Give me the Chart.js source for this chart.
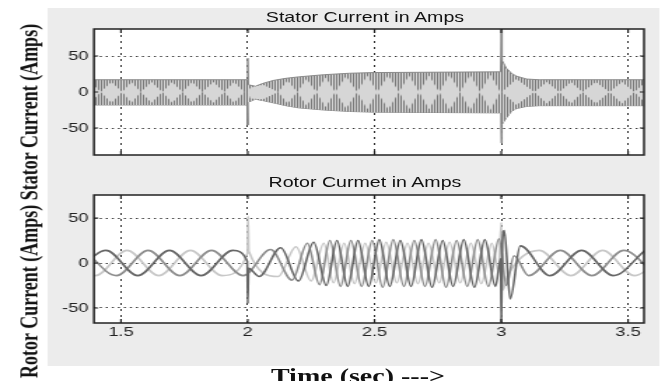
<!DOCTYPE html>
<html>
<head>
<meta charset="utf-8">
<script src="https://cdn.jsdelivr.net/npm/chart.js@4.4.0/dist/chart.umd.min.js"></script>
<style>
body{margin:0;background:#fff;overflow:hidden}
#fig{position:absolute;left:0;top:0;width:474px;height:381px;transform:scaleX(1.4);transform-origin:0 0}
#bg{position:absolute;left:34.3px;top:8px;width:436.7px;height:358px;background:#ececec}
canvas{position:absolute;left:0}
#c1{top:0}
#c2{top:170px}
.ttl{position:absolute;left:260.7px;transform:translateX(-50%);font:14px 'Liberation Sans';line-height:14px;white-space:nowrap;color:#111}
#ylab{position:absolute;left:20.7px;top:201px;transform:translate(-50%,-50%) rotate(-90deg);font:bold 18px 'Liberation Serif';line-height:18px;white-space:nowrap;color:#111}
#xlab{position:absolute;left:255.7px;top:366px;transform:translateX(-50%);font:bold 20px 'Liberation Serif';line-height:20px;white-space:nowrap;color:#111}
</style>
</head>
<body>
<div id="fig">
  <div id="bg"></div>
  <canvas id="c1" width="474" height="170"></canvas>
  <canvas id="c2" width="474" height="211"></canvas>
  <div class="ttl" style="top:10px">Stator Current in Amps</div>
  <div class="ttl" style="top:175px">Rotor Curmet in Amps</div>
  <div id="ylab">Rotor Current (Amps) Stator Current (Amps)</div>
  <div id="xlab">Time (sec) ---&gt;</div>
</div>
<script>
// axis ticks
const xTicks = [1.5, 2, 2.5, 3, 3.5]
const yTicks = [-50, 0, 50]

// stator current: envelope of the 50 Hz band
const statT  = [1.39, 1.997, 2.0, 2.003, 2.03, 2.06, 2.1, 2.15, 2.2, 2.3, 2.4, 2.5, 2.997, 3.0, 3.003, 3.02, 3.04, 3.06, 3.1, 3.15, 3.57]
const statUp = [17, 17, 47, 10, 8, 12, 16, 19, 21, 24, 26, 27, 28, 86, 44, 33, 26, 22, 18, 17, 17]
const statLo = [-18, -18, -46, -14, -10, -12, -15, -19, -22, -25, -27, -28, -29, -71, -45, -36, -27, -23, -20, -19, -19]

// stator current: light "diamonds" between the beat nodes
const diaT  = [1.38, 1.420, 1.462, 1.505, 1.541, 1.578, 1.620, 1.663, 1.702, 1.742, 1.781, 1.821, 1.864, 1.907, 1.946, 1.986, 2.0, 2.01, 2.06, 2.12,
  2.157, 2.195, 2.232, 2.27, 2.307, 2.345, 2.388, 2.432, 2.471, 2.511, 2.554, 2.597, 2.636, 2.676, 2.715, 2.755, 2.796, 2.838, 2.877, 2.917, 2.957, 2.996,
  3.003, 3.06, 3.130, 3.18, 3.229, 3.275, 3.320, 3.373, 3.427, 3.476, 3.525, 3.57]
const diaUp = [14, 0, 14, 0, 14, 0, 14, 0, 14, 0, 14, 0, 14, 0, 14, 0, 0, 6, 10, 0,
  16, 0, 18, 0, 20, 0, 22, 0, 23, 0, 23, 0, 23, 0, 23, 0, 24, 0, 24, 0, 24, 0,
  0, 18, 0, 14, 0, 14, 0, 14, 0, 14, 0, 14]
const diaLo = [-15, 0, -15, 0, -15, 0, -15, 0, -15, 0, -15, 0, -15, 0, -15, 0, 0, -9, -10, 0,
  -16, 0, -19, 0, -21, 0, -23, 0, -24, 0, -24, 0, -24, 0, -24, 0, -25, 0, -25, 0, -25, 0,
  0, -18, 0, -16, 0, -16, 0, -16, 0, -16, 0, -16]

// rotor currents, three phases (peaks, troughs and spikes)
const rotAT = [1.316, 1.441, 1.566, 1.691, 1.816, 1.941, 1.998, 2.0, 2.003, 2.045, 2.13, 2.2, 2.26, 2.31,
  2.352, 2.394, 2.435, 2.477, 2.519, 2.560, 2.602, 2.644, 2.685, 2.727, 2.769, 2.810, 2.852, 2.894, 2.935, 2.977,
  2.998, 3.0, 3.004, 3.012, 3.035, 3.075, 3.192, 3.317, 3.442, 3.567]
const rotA = [-14, 14, -14, 14, -14, 14, 2, -45, -6, -15, 17, -20, 23, -25,
  25, -26, 25, -26, 26, -26, 25, -26, 26, -27, 25, -26, 26, -27, 26, -26,
  5, -66, 20, 36, -40, 19, -14, 14, -14, 14]

const rotBT = [1.357, 1.482, 1.607, 1.732, 1.857, 1.982, 2.09, 2.175, 2.235, 2.283,
  2.324, 2.366, 2.407, 2.449, 2.491, 2.532, 2.574, 2.616, 2.657, 2.699, 2.741, 2.782, 2.824, 2.866, 2.907, 2.949, 2.991,
  3.02, 3.05, 3.108, 3.233, 3.358, 3.483, 3.608]
const rotB = [14, -14, 14, -14, 14, -14, 15, -19, 22, -24,
  25, -26, 25, -26, 25, -27, 26, -26, 25, -26, 26, -27, 25, -26, 26, -26, 27,
  -25, 8, -14, 14, -14, 14, -14]

const rotCT = [1.274, 1.399, 1.524, 1.649, 1.774, 1.899, 1.999, 2.001, 2.004, 2.12, 2.19, 2.25, 2.30,
  2.338, 2.380, 2.421, 2.463, 2.505, 2.546, 2.588, 2.630, 2.671, 2.713, 2.755, 2.796, 2.838, 2.880, 2.921, 2.963,
  2.99, 3.0, 3.006, 3.025, 3.15, 3.275, 3.40, 3.525, 3.65]
const rotC = [14, -14, 14, -14, 14, -14, 11, 52, 13, -15, 18, -20, 22,
  -22, 22, -23, 22, -22, 23, -22, 22, -23, 22, -22, 23, -22, 22, -23, 22,
  -10, 45, -30, -14, 14, -14, 14, -14, 14]

Chart.defaults.font.family = "'Liberation Sans', Arial, sans-serif"

function pts(t, v){ return t.map((x, i) => ({x: x, y: v[i]})) }

// white axes, box and inward ticks like matlab
const axesBox = {
  id: 'axesBox',
  beforeDraw(chart){
    const a = chart.chartArea, ctx = chart.ctx
    ctx.save(); ctx.fillStyle = '#fff'
    ctx.fillRect(a.left, a.top, a.right - a.left, a.bottom - a.top)
    ctx.restore()
  },
  afterDraw(chart){
    const a = chart.chartArea, ctx = chart.ctx
    ctx.save()
    ctx.strokeStyle = '#222'; ctx.lineWidth = 1.5
    ctx.strokeRect(a.left, a.top, a.right - a.left, a.bottom - a.top)
    ctx.lineWidth = 1.2
    ctx.beginPath()
    chart.scales.x.ticks.forEach(t => {
      const px = chart.scales.x.getPixelForValue(t.value)
      ctx.moveTo(px, a.bottom); ctx.lineTo(px, a.bottom - 4)
      ctx.moveTo(px, a.top); ctx.lineTo(px, a.top + 4)
    })
    chart.scales.y.ticks.forEach(t => {
      const py = chart.scales.y.getPixelForValue(t.value)
      ctx.moveTo(a.left, py); ctx.lineTo(a.left + 3, py)
      ctx.moveTo(a.right, py); ctx.lineTo(a.right - 3, py)
    })
    ctx.stroke()
    ctx.restore()
  }
}

function xScale(labels, h){
  return {
    type: 'linear', min: 1.3935, max: 3.563,
    afterBuildTicks: s => { s.ticks = xTicks.map(v => ({value: v})) },
    afterFit: s => { s.height = h },
    grid: {color: '#333', lineWidth: 1, drawTicks: false},
    border: {display: false, dash: [2, 4]},
    ticks: {display: labels, padding: 2, color: '#222', font: {size: 13}, maxRotation: 0, callback: v => String(v)}
  }
}
function yScale(min, max){
  return {
    type: 'linear', min: min, max: max,
    afterBuildTicks: s => { s.ticks = yTicks.map(v => ({value: v})) },
    afterFit: s => { s.width = 67.14 },
    grid: {color: '#333', lineWidth: 1, drawTicks: false},
    border: {display: false, dash: [1.4, 2.9]},
    ticks: {padding: 4, color: '#222', font: {size: 13}, callback: v => String(v)}
  }
}

// vertical stripes for the dense stator waveform
const pc = document.createElement('canvas')
pc.width = 2; pc.height = 1
const pctx = pc.getContext('2d')
pctx.fillStyle = '#d4d4d4'; pctx.fillRect(0, 0, 2, 1)
pctx.fillStyle = '#7a7a7a'; pctx.fillRect(0, 0, 1, 1)
const stripes = document.getElementById('c1').getContext('2d').createPattern(pc, 'repeat')

const none = 'rgba(0,0,0,0)'

new Chart(document.getElementById('c1'), {
  type: 'line',
  data: {
    datasets: [
      {data: pts(diaT, diaUp), borderColor: none, borderWidth: 0, backgroundColor: '#d6d6d6', fill: '+1', pointRadius: 0},
      {data: pts(diaT, diaLo), borderColor: none, borderWidth: 0, fill: false, pointRadius: 0},
      {data: pts(statT, statUp), borderColor: '#8a8a8a', borderWidth: 1, backgroundColor: stripes, fill: '+1', pointRadius: 0},
      {data: pts(statT, statLo), borderColor: '#8a8a8a', borderWidth: 1, fill: false, pointRadius: 0}
    ]
  },
  options: {
    responsive: false, animation: false, events: [],
    layout: {padding: {left: 0, right: 14, top: 29, bottom: 0}},
    plugins: {legend: {display: false}, tooltip: {enabled: false}},
    scales: {x: xScale(false, 15), y: yScale(-87.5, 87.5)}
  },
  plugins: [axesBox]
})

new Chart(document.getElementById('c2'), {
  type: 'line',
  data: {
    datasets: [
      {data: pts(rotAT, rotA), borderColor: '#666666', borderWidth: 1.6, cubicInterpolationMode: 'monotone', fill: false, pointRadius: 0},
      {data: pts(rotBT, rotB), borderColor: '#8e8e8e', borderWidth: 1.6, cubicInterpolationMode: 'monotone', fill: false, pointRadius: 0},
      {data: pts(rotCT, rotC), borderColor: '#c8c8c8', borderWidth: 1.6, cubicInterpolationMode: 'monotone', fill: false, pointRadius: 0}
    ]
  },
  options: {
    responsive: false, animation: false, events: [],
    layout: {padding: {left: 0, right: 14, top: 25, bottom: 0}},
    plugins: {legend: {display: false}, tooltip: {enabled: false}},
    scales: {x: xScale(true, 58), y: yScale(-66.7, 75.6)}
  },
  plugins: [axesBox]
})
</script>
</body>
</html>
